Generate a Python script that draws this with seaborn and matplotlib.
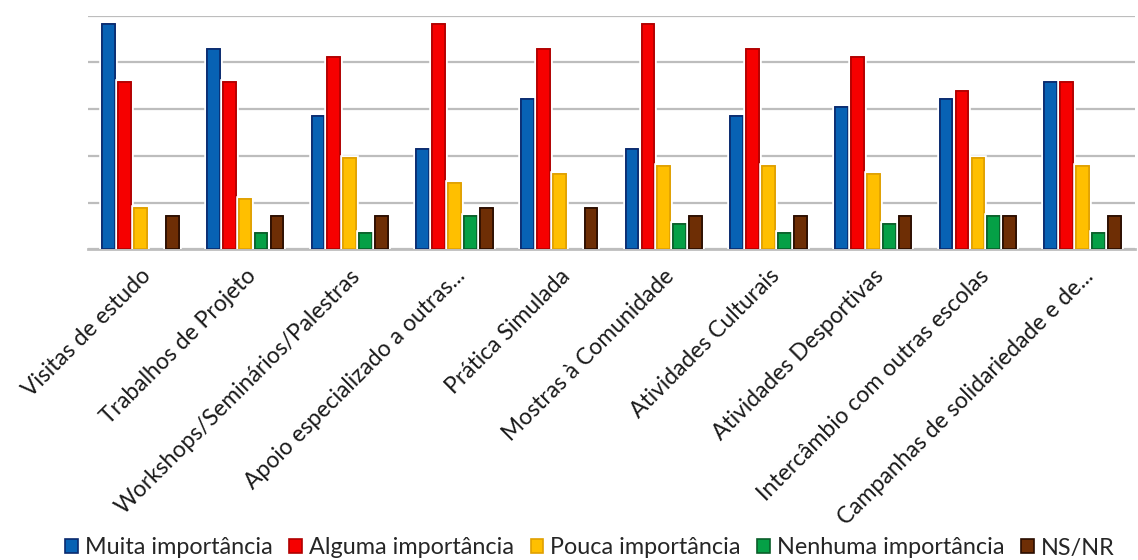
import numpy as np
import pandas as pd
import matplotlib
matplotlib.use("Agg")
import matplotlib.pyplot as plt
import matplotlib.patheffects as pe
from matplotlib.patches import Patch
import seaborn as sns

categories = ["Visitas de estudo", "Trabalhos de Projeto", "Workshops/Seminários/Palestras",
              "Apoio especializado a outras...", "Prática Simulada", "Mostras à Comunidade",
              "Atividades Culturais", "Atividades Desportivas", "Intercâmbio com outras escolas",
              "Campanhas de solidariedade e de..."]
series = ["Muita importância", "Alguma importância", "Pouca importância",
          "Nenhuma importância", "NS/NR"]
muita = [27, 24, 16, 12, 18, 12, 16, 17, 18, 20]
alguma = [20, 20, 23, 27, 24, 27, 24, 23, 19, 20]
pouca = [5, 6, 11, 8, 9, 10, 10, 9, 11, 10]
nenhuma = [0, 2, 2, 4, 0, 3, 2, 3, 4, 2]
nsnr = [4, 4, 4, 5, 5, 4, 4, 4, 4, 4]
total = 56

fill_colors = ["#0862B4", "#F60000", "#FFBF00", "#05A046", "#6E2E05"]
edge_colors = ["#0A2A6E", "#B00000", "#E0A000", "#0B5E2A", "#2A0D00"]

values = [muita, alguma, pouca, nenhuma, nsnr]
rows = []
for s, vals in zip(series, values):
    for c, v in zip(categories, vals):
        rows.append({"Atividade": c, "Importância": s, "pct": v / total * 100})
df = pd.DataFrame(rows)

sns.set_style("white")
plt.rcParams["font.family"] = ["Lato", "DejaVu Sans"]

fig = plt.figure(figsize=(11.38, 5.6), dpi=100)
ax = fig.add_axes([88 / 1138, 1 - 249.3 / 560, (1135 - 88) / 1138, (249.3 - 15.7) / 560])

sns.barplot(data=df, x="Atividade", y="pct", hue="Importância", hue_order=series,
            palette=fill_colors, width=0.76, gap=0.2, ax=ax, legend=False,
            saturation=1, errorbar=None, zorder=3)

for cont, ec in zip(ax.containers, edge_colors):
    for bar in cont:
        bar.set_edgecolor(ec)
        bar.set_linewidth(1.2)
        bar.set_path_effects([pe.withStroke(linewidth=4, foreground="white"), pe.Normal()])
        if bar.get_height() <= 0:
            bar.set_visible(False)

ax.set_ylim(0, 50)
ax.set_xlim(-0.5, len(categories) - 0.5)
ax.set_yticks(np.arange(0, 51, 10))
ax.yaxis.grid(True, color="#BDBDBD", linewidth=1.6, zorder=0)
ax.set_axisbelow(True)
ax.tick_params(axis="y", left=False, labelleft=False)
ax.tick_params(axis="x", bottom=False, pad=8)
for sp in ["top", "right", "left"]:
    ax.spines[sp].set_visible(False)
ax.spines["bottom"].set_color("#BDBDBD")
ax.spines["bottom"].set_linewidth(2)
ax.set_xlabel("")
ax.set_ylabel("")
ax.set_xticks(range(len(categories)))
ax.set_xticklabels(categories, rotation=45, ha="right", va="top",
                   rotation_mode="anchor", fontsize=16.5, color="#1a1a1a")

handles = [Patch(facecolor=f, edgecolor=e, linewidth=1.2) for f, e in zip(fill_colors, edge_colors)]
fig.legend(handles, series, loc="center", bbox_to_anchor=(590 / 1138, 1 - 548 / 560),
           ncol=5, frameon=False, fontsize=16.8, handlelength=0.55, handleheight=0.55,
           handletextpad=0.3, columnspacing=0.7)

fig.savefig("out.png", dpi=100)
